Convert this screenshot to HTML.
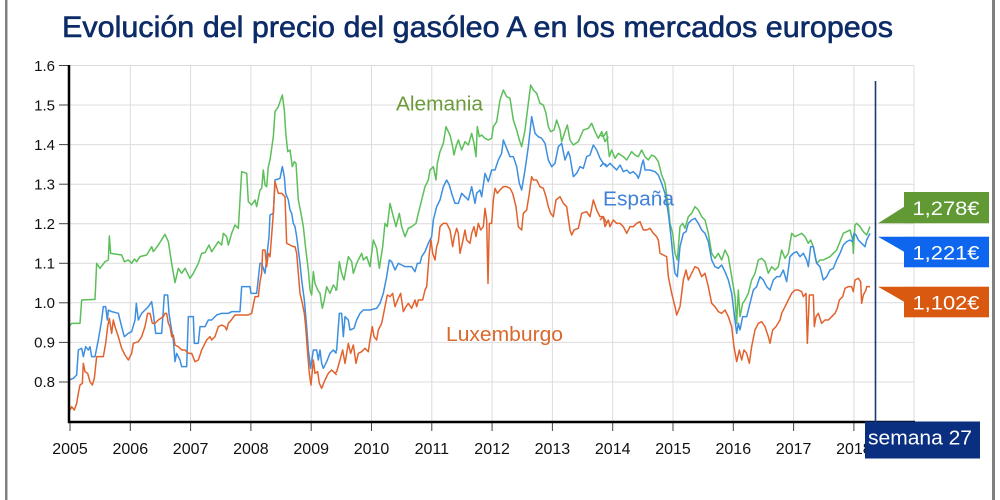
<!DOCTYPE html>
<html><head><meta charset="utf-8"><style>
html,body{margin:0;padding:0;background:#fff;width:1000px;height:500px;overflow:hidden}
svg{display:block}
text{font-family:"Liberation Sans",Arial,sans-serif}
</style></head><body>
<svg width="1000" height="500" viewBox="0 0 1000 500" xmlns="http://www.w3.org/2000/svg">
<rect x="0" y="0" width="1000" height="500" fill="#fff"/>
<rect x="5" y="0" width="2.5" height="500" fill="#808080"/>
<rect x="992" y="0" width="3" height="500" fill="#808080"/>
<text x="62" y="37" font-size="30" fill="#0c2b67" stroke="#0c2b67" stroke-width="0.6" textLength="831" lengthAdjust="spacingAndGlyphs">Evolución del precio del gasóleo A en los mercados europeos</text>
<g stroke="#dcdcdc" stroke-width="1">
<line x1="69" y1="65.5" x2="914" y2="65.5"/><line x1="69" y1="105" x2="914" y2="105"/><line x1="69" y1="144.6" x2="914" y2="144.6"/><line x1="69" y1="184.2" x2="914" y2="184.2"/><line x1="69" y1="223.7" x2="914" y2="223.7"/><line x1="69" y1="263.3" x2="914" y2="263.3"/><line x1="69" y1="302.8" x2="914" y2="302.8"/><line x1="69" y1="342.4" x2="914" y2="342.4"/><line x1="69" y1="382" x2="914" y2="382"/>
<line x1="130.3" y1="65.5" x2="130.3" y2="422"/><line x1="190.6" y1="65.5" x2="190.6" y2="422"/><line x1="250.9" y1="65.5" x2="250.9" y2="422"/><line x1="311.2" y1="65.5" x2="311.2" y2="422"/><line x1="371.5" y1="65.5" x2="371.5" y2="422"/><line x1="431.8" y1="65.5" x2="431.8" y2="422"/><line x1="492.1" y1="65.5" x2="492.1" y2="422"/><line x1="552.4" y1="65.5" x2="552.4" y2="422"/><line x1="612.7" y1="65.5" x2="612.7" y2="422"/><line x1="673" y1="65.5" x2="673" y2="422"/><line x1="733.3" y1="65.5" x2="733.3" y2="422"/><line x1="793.6" y1="65.5" x2="793.6" y2="422"/><line x1="853.9" y1="65.5" x2="853.9" y2="422"/><line x1="914" y1="65.5" x2="914" y2="422"/>
</g>
<g stroke="#444" stroke-width="1">
<line x1="59" y1="65.5" x2="69" y2="65.5"/><line x1="59" y1="105" x2="69" y2="105"/><line x1="59" y1="144.6" x2="69" y2="144.6"/><line x1="59" y1="184.2" x2="69" y2="184.2"/><line x1="59" y1="223.7" x2="69" y2="223.7"/><line x1="59" y1="263.3" x2="69" y2="263.3"/><line x1="59" y1="302.8" x2="69" y2="302.8"/><line x1="59" y1="342.4" x2="69" y2="342.4"/><line x1="59" y1="382" x2="69" y2="382"/>
<line x1="70" y1="422" x2="70" y2="431"/><line x1="130.3" y1="422" x2="130.3" y2="431"/><line x1="190.6" y1="422" x2="190.6" y2="431"/><line x1="250.9" y1="422" x2="250.9" y2="431"/><line x1="311.2" y1="422" x2="311.2" y2="431"/><line x1="371.5" y1="422" x2="371.5" y2="431"/><line x1="431.8" y1="422" x2="431.8" y2="431"/><line x1="492.1" y1="422" x2="492.1" y2="431"/><line x1="552.4" y1="422" x2="552.4" y2="431"/><line x1="612.7" y1="422" x2="612.7" y2="431"/><line x1="673" y1="422" x2="673" y2="431"/><line x1="733.3" y1="422" x2="733.3" y2="431"/><line x1="793.6" y1="422" x2="793.6" y2="431"/><line x1="853.9" y1="422" x2="853.9" y2="431"/>
</g>
<g font-size="15" fill="#111" text-anchor="end">
<text x="55" y="71">1.6</text><text x="55" y="110.5">1.5</text><text x="55" y="150">1.4</text><text x="55" y="189.5">1.3</text><text x="55" y="229">1.2</text><text x="55" y="268.5">1.1</text><text x="55" y="308">1.0</text><text x="55" y="347.5">0.9</text><text x="55" y="387">0.8</text>
</g>
<g font-size="16" fill="#111" text-anchor="middle">
<text x="70" y="454">2005</text><text x="130.3" y="454">2006</text><text x="190.6" y="454">2007</text><text x="250.9" y="454">2008</text><text x="311.2" y="454">2009</text><text x="371.5" y="454">2010</text><text x="431.8" y="454">2011</text><text x="492.1" y="454">2012</text><text x="552.4" y="454">2013</text><text x="612.7" y="454">2014</text><text x="673" y="454">2015</text><text x="733.3" y="454">2016</text><text x="793.6" y="454">2017</text><text x="853.9" y="454">2018</text>
</g>

<g fill="none" stroke-width="1.5" stroke-linejoin="round">
<g transform="translate(65,60) scale(0.33333)">
<polyline vector-effect="non-scaling-stroke" stroke="#5cbf5a" points="12,800 20,790 45,790 50,720 90,718 95,610 105,625 120,605 130,600 133,528 137,580 170,585 178,605 190,600 200,610 208,597 215,605 225,590 245,585 260,560 265,575 280,555 300,523 310,545 320,610 330,668 340,625 350,640 360,625 375,655 385,640 400,610 410,580 420,578 432,555 440,575 450,560 460,545 470,555 475,520 485,530 490,555 500,520 510,495 520,505 530,335 545,340 550,425 560,435 570,420 575,440 585,390 590,385 595,330 600,375 605,380 610,320 615,300 625,230 630,155 640,140 652,105 658,150 662,215 668,275 675,270 682,320 688,305 693,310 700,420 708,460 715,500 722,565 730,630 735,690 740,705 745,635 750,670 758,690 765,700 772,745 778,720 785,680 795,700 805,675 815,690"/>
<polyline vector-effect="non-scaling-stroke" stroke="#3d8fe0" points="12,960 25,955 35,945 40,870 50,865 55,890 62,860 70,870 75,860 80,890 90,890 100,840 110,780 115,740 122,740 127,780 130,750 140,755 160,760 170,800 178,830 190,820 200,815 210,780 214,730 220,780 230,760 240,750 250,740 260,725 265,760 272,820 290,820 298,705 308,705 312,760 318,800 325,840 330,905 335,880 345,900 350,920 365,920 370,770 385,770 388,850 400,850 405,800 420,800 430,780 440,780 455,765 470,760 490,760 500,755 525,755 530,680 555,680 558,700 575,700 585,610 590,610 600,640 612,530 615,465 625,460 630,360 645,355 652,320 658,350 662,400 670,420 675,450 680,460 685,490 690,500 695,530 700,570 705,610 710,660 718,720 725,800 730,870 737,925 745,870 755,870 760,900 765,870 770,910 775,925 785,905 795,880 805,870 815,880"/>
<polyline vector-effect="non-scaling-stroke" stroke="#e2622e" points="12,1055 20,1040 28,1050 35,1030 40,1000 45,975 52,970 55,910 60,935 68,940 75,965 82,975 88,955 95,890 115,890 122,850 128,800 133,775 140,820 145,780 150,800 160,830 170,865 180,885 190,900 200,880 205,850 220,845 230,830 240,800 248,760 255,760 262,790 270,790 280,780 295,770 300,760 305,760 310,790 315,800 320,830 325,825 330,855 340,860 350,870 360,870 370,880 380,880 390,905 400,900 410,870 420,850 425,840 435,830 440,840 450,830 460,800 470,795 480,800 485,810 490,790 495,785 510,765 550,765 560,760 570,710 580,710 585,665 590,640 593,570 600,570 605,620 610,580 615,590 625,460 630,365 640,400 650,400 660,410 665,550 675,555 685,560 690,560 695,580 700,640 705,700 712,730 718,760 722,800 728,880 733,940 738,975 745,900 750,940 758,935 763,970 770,985 780,960 790,940 800,930 815,945"/>
</g>
<g transform="translate(330,60) scale(0.33333)">
<polyline vector-effect="non-scaling-stroke" stroke="#5cbf5a" points="15,690 20,690 28,605 35,640 42,660 55,590 65,605 70,640 80,610 95,580 100,600 110,590 120,620 130,540 140,565 148,625 158,560 165,490 172,500 180,430 190,470 198,500 208,460 215,500 225,530 235,505 245,500 258,490 265,460 270,440 275,420 285,380 295,360 300,330 310,320 318,360 322,310 330,275 340,250 348,200 355,215 360,225 368,260 372,285 378,260 385,240 395,270 405,245 415,255 425,220 432,250 438,290 442,200 448,230 455,225 465,235 475,240 485,235 490,200 500,185 510,120 520,90 530,110 540,115 550,180 560,210 568,240 575,260 585,210 595,130 602,75 610,90 620,100 630,130 640,135 648,160 655,200 662,215 672,210 680,180 690,210 695,245 705,215 712,195 720,240 730,255 745,245 760,210 775,205 785,190 795,215 805,235 815,215 825,245 835,230"/>
<polyline vector-effect="non-scaling-stroke" stroke="#3d8fe0" points="15,880 20,870 28,760 35,760 40,830 45,770 55,780 60,810 72,805 80,780 90,760 100,750 110,750 120,750 140,745 150,730 160,700 170,650 178,600 185,605 195,630 205,610 215,615 225,620 235,620 245,620 255,635 262,610 270,610 275,590 285,575 295,550 305,530 310,480 320,440 330,420 340,380 350,360 358,375 365,400 375,430 385,430 395,400 405,410 415,420 425,380 435,430 440,400 450,390 455,410 465,340 475,365 485,330 495,330 505,300 515,280 520,240 530,265 540,290 550,290 560,320 568,370 575,390 585,330 595,260 605,170 615,220 625,230 635,235 645,250 655,300 665,320 675,310 685,260 695,250 705,300 715,275 720,290 730,350 740,340 750,320 760,325 770,290 780,285 790,255 800,270 810,295 820,310 830,315"/>
<polyline vector-effect="non-scaling-stroke" stroke="#e2622e" points="15,940 20,935 30,900 38,870 45,910 55,850 62,880 70,855 78,910 85,880 95,875 105,865 115,875 120,840 127,800 132,830 140,840 145,810 155,790 165,740 172,705 180,710 188,700 195,740 205,715 212,700 220,755 228,740 235,730 245,745 255,720 260,740 265,720 278,720 285,690 290,680 298,580 303,540 308,580 315,600 320,560 325,545 330,500 340,490 350,490 360,510 368,560 373,530 380,505 385,520 390,580 398,545 405,510 410,540 420,550 425,520 432,500 438,530 445,490 452,510 460,500 465,445 470,480 474,670 478,490 485,490 490,420 495,385 502,400 510,390 520,380 530,380 540,385 548,400 558,440 565,500 575,510 580,460 590,450 598,400 605,350 610,360 620,360 630,380 640,385 648,410 655,440 662,460 670,470 678,420 690,410 700,430 710,440 720,510 725,525 732,510 745,505 755,460 770,455 780,470 790,420 800,450 810,470 820,470 830,490"/>
</g>
<g transform="translate(600,60) scale(0.33333)">
<polyline vector-effect="non-scaling-stroke" stroke="#5cbf5a" points="0,225 10,230 20,215 25,265 28,290 35,270 45,295 55,280 70,290 80,300 95,275 105,285 115,290 125,270 135,290 145,300 155,285 165,290 175,305 185,345 195,370 205,440 210,490 218,520 225,580 232,600 240,500 248,490 255,505 265,470 275,460 285,440 295,450 305,470 315,480 325,520 335,580 345,595 355,580 365,600 375,570 385,590 395,650 405,710 410,790 415,690 420,770 428,730 435,720 445,700 455,660 465,640 475,600 485,595 495,605 505,640 515,620 525,630 535,620 545,570 555,595 565,580 575,520 585,530 595,525 605,520 615,530 625,550 632,540 640,560 645,590 650,610 660,600 670,600 680,595 690,590 700,580 710,570 720,545 730,520 740,515 750,510 758,540 760,580 765,495 770,490 780,500 790,515 800,525 810,500"/>
<polyline vector-effect="non-scaling-stroke" stroke="#3d8fe0" points="0,320 10,310 20,320 30,310 40,320 50,330 60,315 70,335 80,330 90,340 100,335 110,345 115,355 120,340 125,315 130,300 135,330 150,330 165,335 175,345 185,370 195,400 205,460 212,520 218,580 225,640 232,650 240,560 250,520 258,515 265,490 275,480 285,475 295,490 305,510 315,520 325,545 335,600 345,620 355,625 365,615 375,635 385,660 395,700 405,780 410,820 415,790 420,810 428,770 440,770 450,730 460,690 470,680 480,650 490,660 500,680 510,690 520,660 530,650 540,650 550,630 560,665 570,590 580,580 590,575 600,590 610,580 620,600 625,620 632,560 640,560 650,610 660,620 670,660 680,650 690,630 700,625 710,600 720,580 730,555 740,545 750,540 757,545 762,520 768,525 775,540 785,550 795,560 800,540 810,520"/>
<polyline vector-effect="non-scaling-stroke" stroke="#e2622e" points="0,480 10,470 15,500 25,480 30,500 40,480 50,490 60,490 70,500 80,520 90,500 100,500 110,490 120,485 130,510 140,510 150,505 160,520 170,530 175,540 180,580 190,585 200,590 205,650 215,700 225,740 230,765 240,740 250,660 258,630 265,660 275,640 285,620 295,625 305,650 315,640 325,680 335,730 345,740 355,755 365,760 375,750 385,770 395,800 402,860 410,905 418,870 425,900 432,870 440,880 448,910 455,860 465,810 475,790 485,785 495,800 505,830 510,850 518,810 528,800 540,780 545,760 555,740 565,720 575,700 585,690 595,690 605,695 610,710 618,700 622,850 628,705 632,705 640,705 643,800 648,770 655,760 665,790 675,780 685,780 695,770 705,760 712,745 718,720 728,710 735,685 745,680 755,680 760,695 765,660 775,655 782,665 785,730 790,705 798,690 800,680 810,680"/>
</g>
</g>

<line x1="69" y1="65" x2="69" y2="423" stroke="#000" stroke-width="2.5"/>
<line x1="68" y1="422" x2="915" y2="422" stroke="#000" stroke-width="2.5"/>

<text x="396" y="110.5" font-size="20" fill="#6b9b3a" textLength="87" lengthAdjust="spacingAndGlyphs">Alemania</text>
<text x="603" y="205.5" font-size="20" fill="#3f82d8" textLength="71" lengthAdjust="spacingAndGlyphs">España</text>
<text x="446" y="341" font-size="20" fill="#d9682c" textLength="117" lengthAdjust="spacingAndGlyphs">Luxemburgo</text>

<line x1="875.5" y1="81" x2="875.5" y2="423" stroke="#1a3a72" stroke-width="1.6"/>

<polygon points="878,223.3 904.5,206.5 904.5,223.3" fill="#619a35"/>
<rect x="904" y="192" width="85" height="31.3" fill="#619a35"/>
<text x="912.5" y="215" font-size="19" fill="#fff" textLength="67" lengthAdjust="spacingAndGlyphs">1,278€</text>

<polygon points="878,236.7 904.5,236.7 904.5,252" fill="#0f66ee"/>
<rect x="904" y="236.7" width="85" height="30.6" fill="#0f66ee"/>
<text x="912.5" y="259.5" font-size="19" fill="#fff" textLength="67" lengthAdjust="spacingAndGlyphs">1,221€</text>

<polygon points="878,286.7 904.5,286.7 904.5,302" fill="#d8590f"/>
<rect x="904" y="286.7" width="85" height="30.6" fill="#d8590f"/>
<text x="912.5" y="309.5" font-size="19" fill="#fff" textLength="67" lengthAdjust="spacingAndGlyphs">1,102€</text>

<rect x="865" y="421.5" width="115" height="37" fill="#0b2f80"/>
<text x="868" y="444.5" font-size="20" fill="#fff" textLength="104" lengthAdjust="spacingAndGlyphs">semana 27</text>
</svg>
</body></html>
